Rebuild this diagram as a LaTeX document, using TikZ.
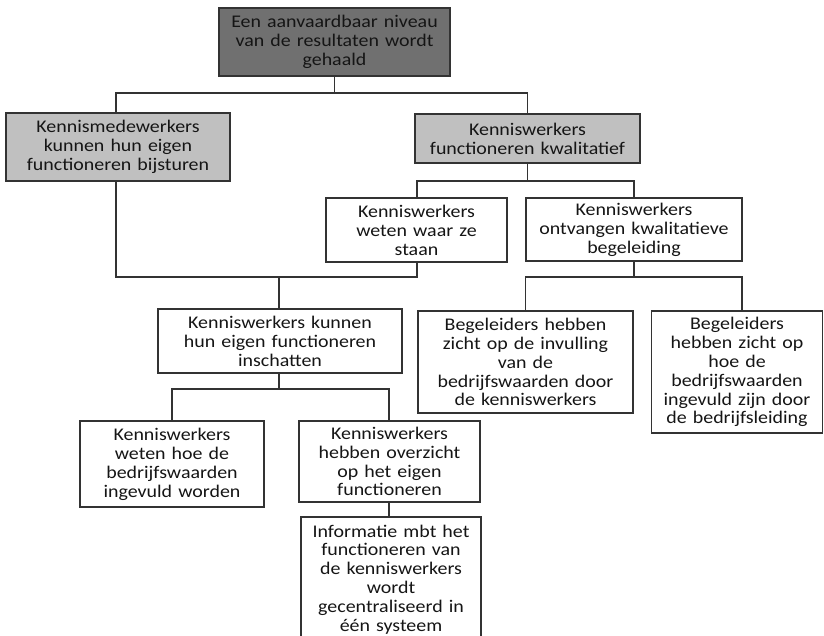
\documentclass[tikz,border=0pt]{standalone}
\usepackage{fontspec}
\setmainfont{Carlito}[FakeStretch=1.12,WordSpace=1.35]
\definecolor{darkfill}{HTML}{707070}
\definecolor{lightfill}{HTML}{C0C0C0}
\definecolor{txt}{HTML}{151515}
\definecolor{edge}{HTML}{333333}
\begin{document}
\begin{tikzpicture}[x=1pt,y=-1pt,
  box/.style={draw=edge, line width=1.3pt, inner sep=0pt, align=center,
    text=txt, font=\fontsize{17.8}{18.9}\selectfont, fill=white},
  darkbox/.style={box, fill=darkfill},
  lightbox/.style={box, fill=lightfill},
  conn/.style={draw=edge, line width=1.3pt}]
\clip (0,0) rectangle (824,636);
\fill[white] (0,0) rectangle (824,636);

\node[darkbox, minimum width=231pt, minimum height=68pt] (top) at (334.5,42)
  {Een aanvaardbaar niveau\\van de resultaten wordt\\gehaald};
\node[lightbox, minimum width=224pt, minimum height=68pt] (l1) at (118,147)
  {Kennismedewerkers\\kunnen hun eigen\\functioneren bijsturen};
\node[lightbox, minimum width=225pt, minimum height=49pt] (r1) at (527.5,138.5)
  {Kenniswerkers\\functioneren kwalitatief};
\node[box, minimum width=181pt, minimum height=64pt] (a) at (416.5,230)
  {Kenniswerkers\\weten waar ze\\staan};
\node[box, minimum width=216pt, minimum height=63pt] (b) at (634,229.5)
  {Kenniswerkers\\ontvangen kwalitatieve\\begeleiding};
\node[box, minimum width=244pt, minimum height=64pt] (c) at (280,341)
  {Kenniswerkers kunnen\\hun eigen functioneren\\inschatten};
\node[box, minimum width=184pt, minimum height=86pt] (d) at (172,464)
  {Kenniswerkers\\weten hoe de\\bedrijfswaarden\\ingevuld worden};
\node[box, minimum width=181pt, minimum height=81pt] (e) at (389.5,461.5)
  {Kenniswerkers\\hebben overzicht\\op het eigen\\functioneren};
\node[box, minimum width=180pt, minimum height=125pt] (f) at (391,579.5)
  {Informatie mbt het\\functioneren van\\de kenniswerkers\\wordt\\gecentraliseerd in\\één systeem};
\node[box, minimum width=215pt, minimum height=102pt] (g) at (525.5,362)
  {Begeleiders hebben\\zicht op de invulling\\van de\\bedrijfswaarden door\\de kenniswerkers};
\node[box, minimum width=171pt, minimum height=122pt] (h) at (737,372)
  {Begeleiders\\hebben zicht op\\hoe de\\bedrijfswaarden\\ingevuld zijn door\\de bedrijfsleiding};

% connector junctions
\coordinate (j0) at (334.5,93);
\coordinate (j1) at (527.5,181);
\coordinate (j2) at (279,277);
\coordinate (j3) at (279,389);
\coordinate (j4) at (634,277);
\coordinate (xl1) at (116,0);
\coordinate (xa) at (417,0);
\coordinate (xh) at (742,0);

\draw[conn] (top.south) -- (j0);
\draw[conn] (xl1 |- l1.north) |- (j0) -| (r1.north);
\draw[conn] (r1.south) -- (j1);
\draw[conn] (xa |- a.north) |- (j1) -| (b.north);
\draw[conn] (xl1 |- l1.south) |- (j2) -| (xa |- a.south);
\draw[conn] (j2) -- (j2 |- c.north);
\draw[conn] (j2 |- c.south) -- (j3);
\draw[conn] (d.north) |- (j3) -| (389,421);
\draw[conn] (389,421 |- e.south) -- (389,421 |- f.north);
\draw[conn] (b.south) -- (j4);
\draw[conn] (g.north) |- (j4) -| (xh |- h.north);
\end{tikzpicture}
\end{document}
